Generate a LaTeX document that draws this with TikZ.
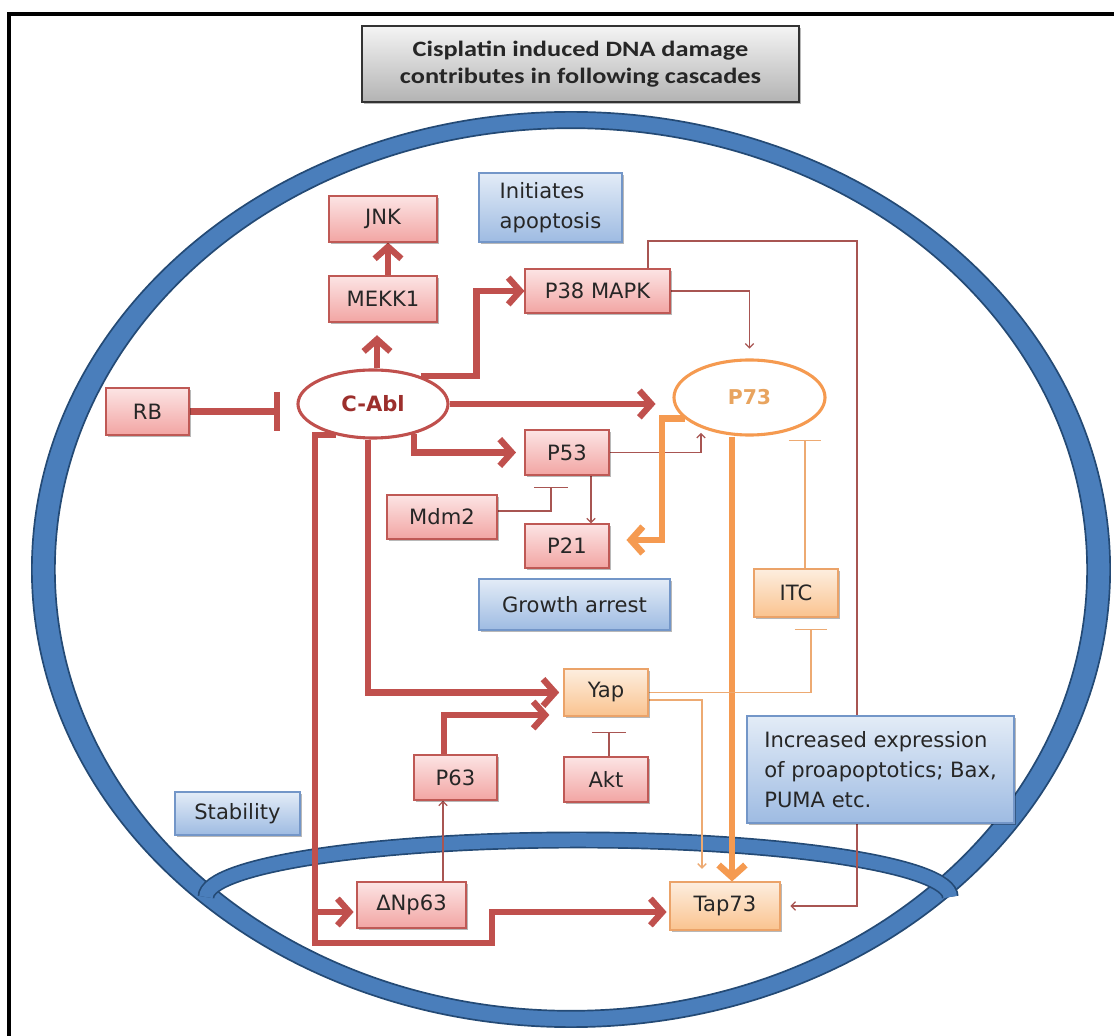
\documentclass[tikz,border=0pt]{standalone}
\usepackage{fontspec}
\setmainfont{DejaVu Sans}
\newfontfamily\titlefont[FakeStretch=1.2]{Carlito}
\usetikzlibrary{arrows.meta,shadows,calc,shapes.geometric}
\pgfdeclarelayer{bg}
\pgfdeclarelayer{lines}
\pgfsetlayers{bg,lines,main}
\definecolor{pkTop}{HTML}{FCE4E4}
\definecolor{pkBot}{HTML}{F2A5A3}
\definecolor{pkDraw}{HTML}{BF5955}
\definecolor{orTop}{HTML}{FDEEDF}
\definecolor{orBot}{HTML}{FAC38F}
\definecolor{orDraw}{HTML}{EBA369}
\definecolor{blTop}{HTML}{E3ECF7}
\definecolor{blBot}{HTML}{9EBBE2}
\definecolor{blDraw}{HTML}{7396C8}
\definecolor{tiTop}{HTML}{F4F4F4}
\definecolor{tiBot}{HTML}{B3B3B3}
\definecolor{thkred}{HTML}{C0504D}
\definecolor{thnred}{HTML}{A85552}
\definecolor{orthk}{HTML}{F59A50}
\definecolor{orthn}{HTML}{EDAA72}
\definecolor{ringblue}{HTML}{4A7EBB}
\definecolor{ringdark}{HTML}{244A75}
\definecolor{cablred}{HTML}{9C2F2C}
\definecolor{ptxt}{HTML}{E8A45F}
\definecolor{txt}{HTML}{262626}
\newcommand\lblfont{\fontsize{15}{21.3}\selectfont}
\begin{document}
\begin{tikzpicture}[x=0.025cm,y=-0.025cm,
  wh/.style 2 args={minimum width=#1*0.7113pt, minimum height=#2*0.7113pt},
  box/.style={rectangle, inner sep=0pt, font=\lblfont, text=txt, line width=0.8pt,
    drop shadow={shadow xshift=1.6pt, shadow yshift=-1.6pt, fill=black, opacity=0.28}},
  pinkbox/.style={box, draw=pkDraw, top color=pkTop, bottom color=pkBot},
  orbox/.style={box, draw=orDraw, top color=orTop, bottom color=orBot},
  bluebox/.style={box, draw=blDraw, top color=blTop, bottom color=blBot},
  titlebox/.style={box, draw=black!80, line width=1pt, top color=tiTop, bottom color=tiBot,
    align=center, font=\titlefont\bfseries\fontsize{15.6}{19.5}\selectfont},
  thk/.style={draw=thkred, line width=4.5pt},
  thka/.style={thk, -{Straight Barb[length=8.5pt,width=19pt]}},
  thkbar/.style={thk, -{Bar[width=28pt]}},
  thn/.style={draw=thnred, line width=0.9pt},
  thna/.style={thn, -{Straight Barb[length=3pt,width=6pt]}},
  thnbar/.style={thn, -{Bar[width=24pt]}},
  ora/.style={draw=orthk, line width=4.7pt, -{Straight Barb[length=8.5pt,width=19pt]}},
  orna/.style={draw=orthn, line width=0.9pt, -{Straight Barb[length=3pt,width=6pt]}},
  ornbar/.style={draw=orthn, line width=0.9pt, -{Bar[width=23pt]}}
]
\useasboundingbox (0,0) rectangle (1114,1036);

% ---------- background and membranes ----------
\begin{pgfonlayer}{bg}
\fill[white] (0,0) rectangle (1114,1036);
\fill[ringblue, draw=ringdark, line width=1.2pt, even odd rule]
  (571,569.5) ellipse [x radius=13.475cm, y radius=11.4375cm]
  (571,569.5) ellipse [x radius=12.9cm, y radius=11.03cm];
\draw[ringdark, line width=12pt] (206,897) arc[start angle=180,end angle=0,x radius=9.3cm,y radius=1.425cm];
\draw[ringblue, line width=9.6pt] (206,897) arc[start angle=180,end angle=0,x radius=9.3cm,y radius=1.425cm];
\end{pgfonlayer}
\draw[line width=2.8pt] (9,1045) -- (9,14) -- (1125,14);

% ---------- nodes ----------
\node[titlebox, wh={437}{76}] (title) at (580.5,64) {Cisplatin induced DNA damage\\contributes in following cascades};
\node[pinkbox, wh={108}{46}] (jnk) at (383,219) {JNK};
\node[pinkbox, wh={108}{46}] (mekk) at (383,299) {MEKK1};
\node[bluebox, wh={143}{69}, align=left] (init) at (550.5,207.5) {Initiates\\apoptosis};
\node[pinkbox, wh={145}{44}] (p38) at (597.5,291) {P38 MAPK};
\node[pinkbox, wh={83}{47}] (rb) at (147.5,411.5) {RB};
\node[ellipse, draw=thkred, line width=2.2pt, fill=white, inner sep=0pt, wh={150}{68},
  font=\fontsize{15}{17}\selectfont\bfseries, text=cablred] (cabl) at (373,404) {C-Abl};
\node[ellipse, draw=orthk, line width=2.2pt, fill=white, inner sep=0pt, wh={151}{75},
  font=\fontsize{14.5}{17}\selectfont\bfseries, text=ptxt] (p73) at (749.5,397.5) {P73};
\node[pinkbox, wh={84}{45}] (p53) at (567,452.5) {P53};
\node[pinkbox, wh={110}{44}] (mdm2) at (442,517) {Mdm2};
\node[pinkbox, wh={84}{44}] (p21) at (567,546) {P21};
\node[bluebox, wh={191}{51}] (growth) at (574.5,604.5) {Growth arrest};
\node[orbox, wh={84}{48}] (itc) at (796,593) {ITC};
\node[orbox, wh={84}{47}] (yap) at (606,692.5) {Yap};
\node[pinkbox, wh={83}{45}] (p63) at (455.5,777.5) {P63};
\node[pinkbox, wh={84}{45}] (akt) at (606,779.5) {Akt};
\node[bluebox, wh={125}{43}] (stab) at (237.5,813.5) {Stability};
\node[bluebox, wh={267}{107}, align=left] (incr) at (880.5,769.5) {Increased expression\\of proapoptotics; Bax,\\PUMA etc.};
\node[pinkbox, wh={109}{46}] (dnp) at (411.5,905) {ΔNp63};
\node[orbox, wh={110}{48}] (tap) at (725,906) {Tap73};

\coordinate (rbT) at (280,411.5);
\coordinate (brn) at (315,912);
\coordinate (itcT) at (805,440);
\coordinate (aktT) at (609,732);
\coordinate (mdmT) at (551,487);

% ---------- connectors ----------
\begin{pgfonlayer}{lines}
\draw[thka] (mekk.north -| 388,0) -- (jnk.south -| 388,0);
\draw[thka, shorten >=9pt] (cabl.north -| 377,0) -- (mekk.south -| 377,0);
\draw[thkbar] (rb.east) -- (rbT);
\draw[thka] (cabl.30) -| ($(p38.west)+(-48,0)$) -- (p38.west);
\draw[thka, shorten >=12pt] (cabl.east) -- (p73.west |- cabl.east);
\draw[thka, shorten >=6pt] (cabl.-36) |- (p53.west);
\draw[thka, shorten >=3pt] ($(cabl.south)+(-5,0)$) |- (yap.west);
\draw[thka, shorten >=2pt] (cabl.-140) -| (315,943) -| (492,912) -- ($(tap.west)+(0,6)$);
\draw[thka, shorten >=2pt] (brn) -- ($(dnp.west)+(0,7)$);
\draw[thka, shorten >=10pt] (p63.north -| 444,0) |- (yap.west |- 0,715);
\draw[thna] (dnp.north -| 443,0) -- (p63.south -| 443,0);
\draw[thnbar] ($(mdm2.east)+(0,-6)$) -| (mdmT);
\draw[thna] (p53.south -| 591,0) -- (p21.north -| 591,0);
\draw[thna] (p53.east) -| ($(p73.-148)+(0,5)$);
\draw[thna, shorten >=7pt] (p38.east) -| (p73.north);
\draw[thna, shorten >=7pt] ($(p38.north)+(50.5,0)$) |- (857,241) |- (tap.east);
\draw[ora, shorten >=12pt] (p73.-162) -| (662,540) -- (p21.east |- 0,540);
\draw[ora] (p73.south -| 732,0) -- (tap.north -| 732,0);
\draw[orna, shorten >=9pt] (yap.east |- 0,700) -| (tap.north -| 702,0);
\draw[ornbar] (yap.east) -| ($(itc.south)+(15,11)$);
\draw[ornbar] (itc.north -| 805,0) -- (itcT);
\draw[thnbar] (akt.north -| 609,0) -- (aktT);
\end{pgfonlayer}
\end{tikzpicture}
\end{document}
